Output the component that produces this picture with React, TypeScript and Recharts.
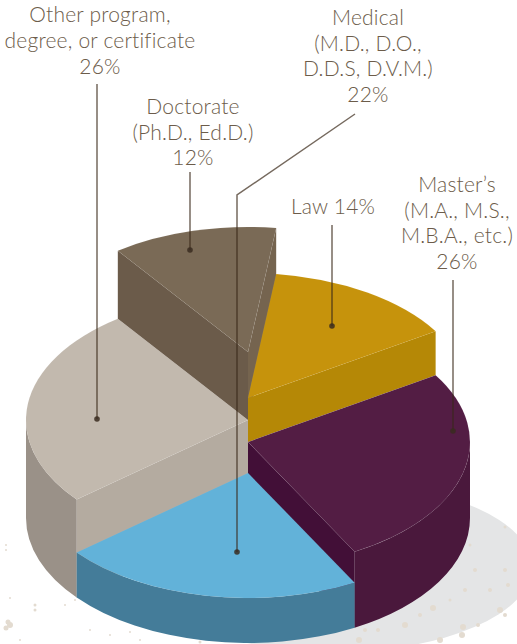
import { Pie, PieChart } from "recharts";

// listed back to front, so the later wedges paint over the earlier ones
const CATEGORIES = ["Other", "Doctorate", "Law", "Master's", "Medical"];
const VALUES = [26, 12, 14, 26, 22];
const LABEL_LINES = [
  ["Other program,", "degree, or certificate"],
  ["Doctorate", "(Ph.D., Ed.D.)"],
  [],
  ["Master\u2019s", "(M.A., M.S.,", "M.B.A., etc.)"],
  ["Medical", "(M.D., D.O.,", "D.D.S, D.V.M.)"],
];

const data = CATEGORIES.map((name, i) => ({ name, value: VALUES[i], lines: LABEL_LINES[i] }));

// each wedge is a block of its own height, lifted to its own level
const LOOKS: Record<string, any> = {
  Doctorate: { apexY: 352, depth: 68, top: "#7a6a56", cut: "#6b5b4a", cutEnd: "#75644f", wall: "#6b5b4a" },
  Law: { apexY: 398, depth: 44, top: "#c6930c", cut: "#b58806", cutEnd: "#b58806", wall: "#b58806" },
  "Master's": { apexY: 442, depth: 76, top: "#531d44", cut: "#420f37", cutEnd: "#420f37", wall: "#4a183c" },
  Medical: { apexY: 473, depth: 45, top: "#62b2d9", cut: "#447c99", cutEnd: "#447c99", wall: "#447c99" },
  Other: { apexY: 420, depth: 98, top: "#c2b9ae", cut: "#b4aba0", cutEnd: "#b4aba0", wall: "#9a9188" },
};

const LABEL_SPOTS: Record<string, any> = {
  Doctorate: { x: 193, y: 114, step: 25.5, leader: [[190, 172], [190, 250]] },
  Law: { x: 333, y: 214, step: 25.5, leader: [[332, 225], [332, 326]] },
  "Master's": { x: 457, y: 192, step: 25.5, leader: [[453, 280], [453, 431]] },
  Medical: { x: 368, y: 25, step: 25.5, leader: [[355, 114], [237, 195], [237, 552]] },
  Other: { x: 100, y: 22, step: 26, leader: [[97, 84], [97, 419]] },
};

const SPECKS = [
  [8, 622, 2.5], [6, 628, 2.5], [10, 625, 3], [35, 605, 1.5], [35, 610, 1.5], [10, 598, 1], [6, 550, 1], [6, 545, 1],
  [65, 605, 1], [75, 600, 1], [20, 640, 1], [90, 630, 1], [130, 632, 1], [110, 635, 1], [140, 640, 1],
  [200, 642, 1.5], [463, 627, 3], [462, 635, 3], [433, 608, 3], [420, 615, 2], [405, 625, 3], [378, 630, 2], [365, 630, 2],
  [359, 640, 3], [465, 590, 2], [475, 570, 2], [505, 570, 2], [500, 610, 3], [505, 615, 2], [490, 590, 2], [478, 625, 2],
  [508, 585, 2], [470, 545, 1.5], [505, 527, 1.5], [440, 640, 3], [450, 600, 1.5],
];

const RX = 222;
const RY = 125;
const RAD = Math.PI / 180;
const INK = "#6c5c4a";

function Wedge3D(props: any) {
  const { cx, name } = props;
  // keep the angles running below zero so the front half is simply -180..0
  const shift = props.startAngle > 180 ? 360 : 0;
  const startAngle = props.startAngle - shift;
  const endAngle = props.endAngle - shift;
  const look = LOOKS[name];
  const pt = (a: number, drop = 0) =>
    `${cx + RX * Math.cos(a * RAD)} ${look.apexY - RY * Math.sin(a * RAD) + drop}`;
  const apex = (drop = 0) => `${cx} ${look.apexY + drop}`;
  const d = look.depth;
  const large = startAngle - endAngle > 180 ? 1 : 0;

  const showStart = Math.cos(startAngle * RAD) < 0;
  const showEnd = Math.cos(endAngle * RAD) > 0;
  const a1 = Math.min(startAngle, 0);
  const a2 = Math.max(endAngle, -180);

  return (
    <g>
      {showStart && (
        <path d={`M${apex()} L${pt(startAngle)} L${pt(startAngle, d)} L${apex(d)} Z`} fill={look.cut} />
      )}
      {showEnd && (
        <path d={`M${apex()} L${pt(endAngle)} L${pt(endAngle, d)} L${apex(d)} Z`} fill={look.cutEnd} />
      )}
      {a1 > a2 && (
        <path
          d={`M${pt(a1)} A${RX} ${RY} 0 0 1 ${pt(a2)} L${pt(a2, d)} A${RX} ${RY} 0 0 0 ${pt(a1, d)} Z`}
          fill={look.wall}
        />
      )}
      <path
        d={`M${apex()} L${pt(startAngle)} A${RX} ${RY} 0 ${large} 1 ${pt(endAngle)} Z`}
        fill={look.top}
        stroke="rgba(255,255,255,0.07)"
        strokeWidth={0.6}
      />
    </g>
  );
}

function WedgeLabel(props: any) {
  const { name, value, payload } = props;
  const spot = LABEL_SPOTS[name];
  const lines: string[] = payload?.lines ?? props.lines ?? [];
  const shown = name === "Law" ? [`Law ${value}%`] : [...lines, `${value}%`];
  const end = spot.leader[spot.leader.length - 1];
  return (
    <g>
      <polyline
        points={spot.leader.map((p: number[]) => p.join(",")).join(" ")}
        fill="none"
        stroke="#3a2a1a"
        strokeOpacity={0.7}
        strokeWidth={1.5}
      />
      <circle cx={end[0]} cy={end[1]} r={2.8} fill="#3a2c20" fillOpacity={0.85} />
      <text
        textAnchor="middle"
        fill={INK}
        fontFamily="Lato, sans-serif"
        fontWeight={300}
        fontSize={21}
        letterSpacing={0.2}
      >
        {shown.map((line, i) => (
          <tspan key={line} x={spot.x} y={spot.y + i * spot.step}>
            {line}
          </tspan>
        ))}
      </text>
    </g>
  );
}

export default function App() {
  return (
    <div style={{ position: "absolute", left: 0, top: 0, width: 517, height: 644, overflow: "hidden", background: "#fff" }}>
      <svg width={517} height={644} style={{ position: "absolute", left: 0, top: 0 }}>
        <ellipse cx={335} cy={567} rx={197} ry={85} fill="#e4e5e6" />
        {SPECKS.map(([x, y, r]) => (
          <circle key={`${x}-${y}`} cx={x} cy={y} r={r} fill="#e3dbd0" />
        ))}
      </svg>
      <div style={{ position: "absolute", left: 0, top: 0 }}>
        <PieChart width={517} height={644} margin={{ top: 0, right: 0, bottom: 0, left: 0 }}>
          <Pie
            data={data}
            dataKey="value"
            nameKey="name"
            cx={248}
            cy={420}
            outerRadius={222}
            startAngle={219.5}
            endAngle={-140.5}
            stroke="none"
            isAnimationActive={false}
            shape={Wedge3D}
            label={WedgeLabel}
            labelLine={false}
          />
        </PieChart>
      </div>
    </div>
  );
}
